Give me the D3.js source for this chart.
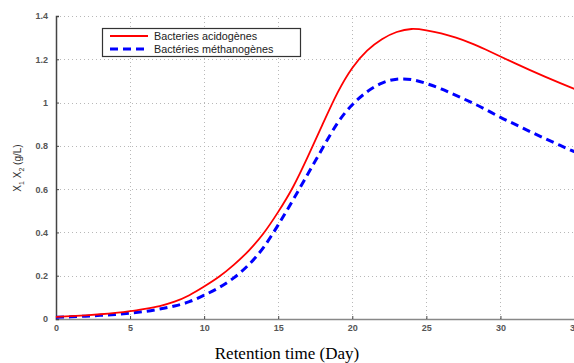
<!DOCTYPE html>
<html>
<head>
<meta charset="utf-8">
<script src="https://cdn.jsdelivr.net/npm/d3@7"></script>
<style>
  body { margin: 0; background: #fff; }
  svg { display: block; }
</style>
</head>
<body>
<script>
// values (one per day)
var days    = d3.range(0, 36)
var acido   = [0.010, 0.013, 0.017, 0.022, 0.028, 0.036, 0.047, 0.060, 0.080, 0.110,
               0.150, 0.195, 0.250, 0.315, 0.395, 0.495, 0.610, 0.750, 0.900, 1.045,
               1.160, 1.240, 1.293, 1.326, 1.340, 1.334, 1.320, 1.300, 1.275, 1.245,
               1.213, 1.181, 1.150, 1.120, 1.091, 1.063]
var methano = [0.008, 0.010, 0.013, 0.017, 0.021, 0.027, 0.035, 0.046, 0.060, 0.080,
               0.110, 0.145, 0.190, 0.250, 0.330, 0.435, 0.550, 0.670, 0.790, 0.905,
               0.990, 1.050, 1.090, 1.108, 1.106, 1.088, 1.063, 1.033, 1.002, 0.968,
               0.932, 0.899, 0.866, 0.834, 0.803, 0.773]
var xTicks  = [0, 5, 10, 15, 20, 25, 30, 35]
var yTicks  = [0, 0.2, 0.4, 0.6, 0.8, 1, 1.2, 1.4]
var seriesNames = ["Bacteries acidogènes", "Bactéries méthanogènes"]

var width = 574, height = 363
var margin = {top: 16, right: 0, bottom: 44, left: 56}

var svg = d3.select("body").append("svg")
    .attr("width", width)
    .attr("height", height)

var x = d3.scaleLinear().domain([0, 35]).range([margin.left, 574.5])
var y = d3.scaleLinear().domain([0, 1.4]).range([height - margin.bottom, margin.top])

// dotted grid
var grid = svg.append("g").attr("stroke", "#b8b8b8").attr("stroke-dasharray", "1,3").attr("stroke-width", 1)
grid.selectAll("line.gx").data(xTicks.slice(1)).enter().append("line")
    .attr("x1", d => Math.round(x(d)) + 0.5).attr("x2", d => Math.round(x(d)) + 0.5)
    .attr("y1", y(0)).attr("y2", y(1.4))
grid.selectAll("line.gy").data(yTicks.slice(1)).enter().append("line")
    .attr("x1", x(0)).attr("x2", width)
    .attr("y1", d => Math.round(y(d)) + 0.5).attr("y2", d => Math.round(y(d)) + 0.5)

// axes
var xAxis = d3.axisBottom(x).tickValues(xTicks).tickSize(-3).tickPadding(6).tickFormat(d3.format("d"))
var yAxis = d3.axisLeft(y).tickValues(yTicks).tickSize(-3).tickPadding(8).tickFormat(d => d === 0 ? "0" : d3.format("~g")(d))

var gx = svg.append("g").attr("transform", "translate(0," + y(0) + ")").call(xAxis)
gx.select(".domain").attr("stroke", "#888").attr("stroke-width", 1.5)
gx.selectAll(".tick line").attr("stroke", "#444")
gx.selectAll("text").attr("font-family", "Liberation Sans, Arial, sans-serif").attr("font-size", 9)
    .attr("font-weight", "bold").attr("fill", "#555")

var gy = svg.append("g").attr("transform", "translate(" + x(0) + ",0)").call(yAxis)
gy.select(".domain").attr("stroke", "#444").attr("stroke-width", 1.5)
gy.selectAll(".tick line").attr("stroke", "#444")
gy.selectAll("text").attr("font-family", "Liberation Sans, Arial, sans-serif").attr("font-size", 9)
    .attr("font-weight", "bold").attr("fill", "#555")

// curves
var line = d3.line().curve(d3.curveNatural)
    .x((d, i) => x(days[i]))
    .y(d => y(d))

svg.append("path").datum(methano)
    .attr("fill", "none").attr("stroke", "#0000ff").attr("stroke-width", 3)
    .attr("stroke-dasharray", "8,5")
    .attr("d", line)

svg.append("path").datum(acido)
    .attr("fill", "none").attr("stroke", "#ff0000").attr("stroke-width", 1.8)
    .attr("d", line)

// legend
var lg = svg.append("g")
lg.append("rect").attr("x", 102.5).attr("y", 28.5).attr("width", 198).attr("height", 28)
    .attr("fill", "#fff").attr("stroke", "#333").attr("stroke-width", 1.2)
var styles = [
    {color: "#ff0000", w: 1.8, dash: null},
    {color: "#0000ff", w: 3, dash: "8,5"}
]
seriesNames.forEach(function(name, i) {
    var yy = 36 + i * 13
    lg.append("line").attr("x1", 110).attr("x2", 148).attr("y1", yy).attr("y2", yy)
        .attr("stroke", styles[i].color).attr("stroke-width", styles[i].w)
        .attr("stroke-dasharray", styles[i].dash)
    lg.append("text").attr("x", 154).attr("y", yy + 4)
        .attr("font-family", "Liberation Sans, Arial, sans-serif").attr("font-size", 10.8)
        .attr("fill", "#222").text(name)
})

// axis titles
svg.append("text")
    .attr("x", 287).attr("y", 359)
    .attr("text-anchor", "middle")
    .attr("font-family", "Liberation Serif, Times New Roman, serif")
    .attr("font-size", 17)
    .attr("fill", "#000")
    .text("Retention time (Day)")

var ylab = svg.append("text")
    .attr("transform", "translate(21,168) rotate(-90)")
    .attr("text-anchor", "middle")
    .attr("font-family", "Liberation Sans, Arial, sans-serif")
    .attr("font-size", 10)
    .attr("fill", "#333")
ylab.append("tspan").text("X")
ylab.append("tspan").attr("font-size", 7).attr("dy", 3).text("1")
ylab.append("tspan").attr("dy", -3).text(" X")
ylab.append("tspan").attr("font-size", 7).attr("dy", 3).text("2")
ylab.append("tspan").attr("dy", -3).text(" (g/L)")
</script>
</body>
</html>
